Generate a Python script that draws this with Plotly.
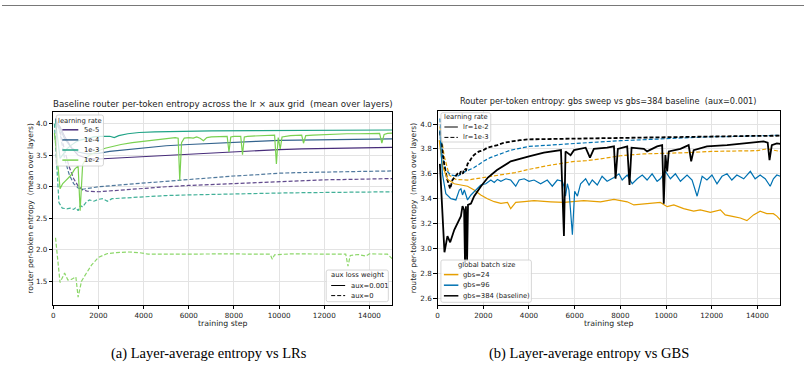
import plotly.graph_objects as go

W, H = 804, 369

# ---------------- data: left panel (lr x aux grid) ----------------
lr5e5_aux001 = [(100,4.05),(300,3.95),(500,3.80),(800,3.62),(1100,3.50),(1500,3.45),(2000,3.44),(3000,3.46),(4000,3.48),(5000,3.50),(6000,3.52),(7000,3.54),(8000,3.555),(9000,3.57),(10000,3.59),(11000,3.60),(12000,3.605),(13000,3.61),(14000,3.62),(15000,3.625)]
lr1e4_aux001 = [(100,4.08),(300,3.92),(500,3.76),(800,3.62),(1100,3.55),(1500,3.52),(2000,3.53),(2500,3.56),(3000,3.58),(4000,3.62),(5000,3.65),(6000,3.67),(7000,3.69),(8000,3.70),(9000,3.72),(10000,3.735),(11000,3.74),(12000,3.745),(13000,3.75),(14000,3.755),(15000,3.76)]
lr1e3_aux001 = [(100,4.05),(200,3.72),(300,3.45),(450,3.52),(600,3.60),(800,3.66),(1000,3.71),(1200,3.74),(1500,3.77),(1800,3.79),(2100,3.80),(2500,3.80),(2700,3.78),(2900,3.81),(3300,3.84),(3800,3.86),(4500,3.87),(5500,3.88),(7000,3.885),(9000,3.89),(11000,3.895),(13000,3.895),(15000,3.90)]
lr1e2_aux001 = [(50,3.85),(150,3.55),(300,2.97),(420,3.05),(530,3.09),(650,3.13),(750,3.17),(850,3.22),(950,3.28),(1100,3.33),(1190,2.62),(1300,3.35),(1450,3.45),(1600,3.50),(1800,3.54),(2000,3.57),(2300,3.61),(2600,3.64),(3000,3.67),(3500,3.70),(4000,3.72),(4500,3.75),(5000,3.77),(5400,3.78),(5530,3.77),(5600,3.10),(5680,3.70),(5800,3.77),(6000,3.78),(6200,3.77),(6350,3.79),(6500,3.77),(6650,3.73),(6800,3.78),(7000,3.79),(7300,3.79),(7600,3.80),(7700,3.80),(7780,3.55),(7860,3.79),(8000,3.80),(8300,3.80),(8380,3.51),(8460,3.79),(8600,3.80),(9000,3.81),(9400,3.81),(9800,3.82),(9880,3.36),(9960,3.78),(10050,3.60),(10130,3.79),(10500,3.81),(11000,3.82),(11080,3.69),(11180,3.81),(11500,3.82),(12000,3.83),(12500,3.835),(13000,3.84),(13500,3.84),(14000,3.845),(14450,3.845),(14550,3.69),(14650,3.83),(14800,3.845),(15000,3.85)]
lr5e5_aux0 = [(100,4.05),(300,3.88),(500,3.58),(700,3.32),(900,3.13),(1100,3.01),(1300,2.95),(1500,2.93),(2000,2.92),(3000,2.95),(4000,2.98),(5000,3.0),(6000,3.02),(7000,3.035),(8000,3.05),(9000,3.07),(10000,3.09),(11000,3.10),(12000,3.11),(13000,3.115),(14000,3.125),(15000,3.13)]
lr1e4_aux0 = [(100,4.08),(300,3.85),(500,3.45),(700,3.20),(900,3.05),(1100,2.98),(1300,2.96),(1500,2.97),(2000,3.00),(3000,3.03),(4000,3.06),(5000,3.09),(6000,3.12),(7000,3.15),(8000,3.17),(9000,3.19),(10000,3.215),(11000,3.225),(12000,3.235),(13000,3.24),(14000,3.245),(15000,3.25)]
lr1e3_aux0 = [(50,4.0),(150,3.3),(250,2.75),(400,2.66),(600,2.65),(750,2.66),(900,2.64),(1000,2.67),(1100,2.62),(1200,2.70),(1300,2.68),(1450,2.75),(1600,2.79),(1800,2.77),(2000,2.80),(2200,2.81),(2400,2.77),(2600,2.81),(3000,2.82),(4000,2.84),(5000,2.86),(6000,2.87),(7000,2.88),(8000,2.89),(9000,2.895),(10000,2.90),(11000,2.905),(12000,2.91),(13000,2.915),(14000,2.92),(15000,2.92)]
lr1e2_aux0 = [(100,2.19),(300,1.48),(500,1.63),(650,1.52),(800,1.53),(950,1.56),(1000,1.57),(1100,1.25),(1250,1.50),(1450,1.62),(1700,1.76),(2000,1.88),(2400,1.94),(2800,1.955),(3300,1.965),(3800,1.955),(4200,1.93),(5000,1.93),(6000,1.935),(7000,1.93),(8000,1.935),(9000,1.93),(9600,1.93),(9700,1.85),(9800,1.92),(10500,1.935),(11500,1.935),(12500,1.935),(12950,1.93),(13050,1.74),(13150,1.91),(13500,1.925),(13850,1.90),(14000,1.935),(14500,1.935),(14800,1.93),(15000,1.86)]

lr_labels = ["5e-5", "1e-4", "1e-3", "1e-2"]
lr_colors = ["#472c7a", "#33638d", "#20a386", "#7ad151"]
left_solid = [lr5e5_aux001, lr1e4_aux001, lr1e3_aux001, lr1e2_aux001]
left_dash = [lr5e5_aux0, lr1e4_aux0, lr1e3_aux0, lr1e2_aux0]
aux_labels = ["aux=0.001", "aux=0"]

# ---------------- data: right panel (gbs sweep) ----------------
gbs24_lr1e2 = [(70,3.87),(220,3.66),(440,3.555),(730,3.52),(1020,3.51),(1310,3.50),(1600,3.47),(1890,3.43),(2180,3.40),(2480,3.376),(2770,3.363),(3060,3.37),(3200,3.32),(3420,3.37),(3790,3.376),(4220,3.384),(4950,3.375),(5530,3.37),(6400,3.384),(7130,3.375),(7720,3.395),(8300,3.375),(8590,3.35),(9170,3.36),(9750,3.37),(10050,3.336),(10340,3.35),(10770,3.32),(11210,3.30),(11500,3.31),(11940,3.29),(12380,3.31),(12590,3.27),(12960,3.256),(13250,3.245),(13540,3.224),(13830,3.27),(14120,3.30),(14410,3.28),(14700,3.28),(14850,3.26),(15000,3.23)]
gbs96_lr1e2 = [(100,3.95),(210,3.60),(360,3.44),(580,3.40),(800,3.39),(950,3.47),(1020,3.48),(1090,3.43),(1170,3.47),(1310,3.39),(1460,3.43),(1670,3.47),(1890,3.51),(2110,3.52),(2330,3.55),(2480,3.53),(2620,3.555),(2770,3.54),(2990,3.56),(3200,3.55),(3420,3.50),(3570,3.55),(3790,3.56),(4000,3.54),(4220,3.55),(4510,3.52),(4800,3.55),(5020,3.50),(5240,3.55),(5460,3.54),(5530,3.50),(5600,3.42),(5680,3.52),(5750,3.47),(5900,3.11),(6000,3.46),(6120,3.42),(6260,3.52),(6480,3.56),(6630,3.51),(6770,3.55),(6990,3.51),(7200,3.58),(7420,3.54),(7720,3.57),(7940,3.60),(8080,3.55),(8300,3.59),(8520,3.52),(8740,3.56),(8960,3.59),(9170,3.55),(9390,3.60),(9610,3.54),(9750,3.56),(9970,3.62),(10190,3.56),(10410,3.60),(10630,3.54),(10920,3.59),(11140,3.55),(11360,3.42),(11580,3.58),(11790,3.55),(12010,3.59),(12230,3.52),(12450,3.58),(12670,3.60),(12880,3.55),(13100,3.59),(13400,3.56),(13690,3.62),(13900,3.56),(14120,3.59),(14340,3.56),(14560,3.50),(14700,3.56),(14850,3.59),(15000,3.58)]
gbs384_lr1e2 = [(100,3.68),(300,2.97),(430,3.10),(550,3.05),(730,3.15),(870,3.20),(1020,3.26),(1090,3.34),(1160,3.31),(1200,2.88),(1240,3.34),(1290,2.90),(1330,3.35),(1460,3.36),(1600,3.42),(1900,3.50),(2200,3.57),(2600,3.63),(3200,3.70),(4000,3.74),(4650,3.77),(5400,3.79),(5530,3.10),(5600,3.78),(5820,3.75),(5970,3.79),(6260,3.80),(6480,3.81),(6670,3.73),(6840,3.80),(7420,3.81),(7720,3.82),(7790,3.56),(7890,3.80),(8300,3.82),(8400,3.51),(8490,3.81),(9030,3.80),(9170,3.78),(9610,3.82),(9830,3.83),(9900,3.36),(9970,3.75),(10050,3.62),(10120,3.78),(10630,3.80),(10990,3.83),(11100,3.70),(11210,3.79),(11790,3.82),(12670,3.83),(13540,3.845),(14270,3.86),(14450,3.85),(14530,3.71),(14630,3.83),(14850,3.845),(15000,3.84)]
gbs24_lr1e3 = [(100,3.98),(290,3.74),(510,3.59),(800,3.555),(1310,3.55),(2000,3.57),(2770,3.59),(3400,3.61),(4000,3.636),(4950,3.67),(6000,3.70),(6500,3.705),(7130,3.72),(8000,3.745),(9030,3.76),(10000,3.764),(10920,3.77),(12000,3.78),(12960,3.78),(14000,3.786),(14400,3.80),(15000,3.78)]
gbs96_lr1e3 = [(100,4.045),(220,3.74),(360,3.63),(580,3.59),(870,3.58),(1240,3.62),(1600,3.65),(2000,3.70),(2300,3.73),(2620,3.75),(3200,3.79),(4000,3.82),(5000,3.83),(6000,3.84),(7000,3.855),(8000,3.866),(9000,3.875),(10000,3.885),(11000,3.89),(12000,3.898),(13000,3.90),(14000,3.905),(15000,3.91)]
gbs384_lr1e3 = [(100,3.94),(300,3.66),(430,3.55),(550,3.48),(650,3.55),(750,3.57),(870,3.60),(950,3.59),(1020,3.62),(1100,3.60),(1170,3.64),(1250,3.63),(1310,3.68),(1400,3.70),(1530,3.74),(1650,3.76),(1820,3.78),(2000,3.79),(2180,3.81),(2400,3.82),(2620,3.83),(2900,3.85),(3200,3.86),(3600,3.87),(4000,3.877),(5000,3.88),(6000,3.885),(7000,3.888),(8000,3.893),(9000,3.895),(10000,3.898),(11000,3.90),(12000,3.90),(13000,3.902),(14000,3.905),(15000,3.906)]

gbs_labels = ["gbs=24", "gbs=96", "gbs=384 (baseline)"]
gbs_colors = ["#E69F00", "#0072B2", "#000000"]
right_solid = [gbs24_lr1e2, gbs96_lr1e2, gbs384_lr1e2]
right_dash = [gbs24_lr1e3, gbs96_lr1e3, gbs384_lr1e3]
lr2_labels = ["lr=1e-2", "lr=1e-3"]

x_ticks = [0, 2000, 4000, 6000, 8000, 10000, 12000, 14000]
left_yticks = [1.5, 2.0, 2.5, 3.0, 3.5, 4.0]
right_yticks = [2.6, 2.8, 3.0, 3.2, 3.4, 3.6, 3.8, 4.0]

FONT = "DejaVu Sans"
DASH = "4px,2px"

fig = go.Figure()

def add(series, color, dash, width, xa, ya, opacity=1.0):
    fig.add_trace(go.Scatter(
        x=[p[0] for p in series], y=[p[1] for p in series], mode="lines",
        line=dict(color=color, width=width, dash=dash), opacity=opacity,
        xaxis=xa, yaxis=ya, showlegend=False, hoverinfo="skip"))

for s, c in zip(left_dash, lr_colors):
    add(s, c, DASH, 1.2, "x", "y", 0.85)
for s, c in zip(left_solid, lr_colors):
    add(s, c, "solid", 1.2, "x", "y")
for s, c, w in zip(right_dash, gbs_colors, [1.2, 1.2, 1.8]):
    add(s, c, DASH, w, "x2", "y2")
for s, c, w in zip(right_solid, gbs_colors, [1.2, 1.2, 1.8]):
    add(s, c, "solid", w, "x2", "y2")

def px(x):
    return x / W

def py(y):
    return 1 - y / H

axis_common = dict(showline=True, mirror=True, linecolor="#000", linewidth=0.8,
                   ticks="outside", ticklen=3.5, tickwidth=0.8, tickcolor="#000",
                   showgrid=True, gridcolor="#e3e3e3", gridwidth=0.8, zeroline=False,
                   tickfont=dict(family=FONT, size=7.2, color="#222"))

fig.update_layout(
    width=W, height=H, margin=dict(l=0, r=0, t=0, b=0),
    paper_bgcolor="white", plot_bgcolor="white", showlegend=False,
    xaxis=dict(domain=[px(51.4), px(391)], range=[0, 15000], tickvals=x_ticks, tickformat="d", anchor="y", **axis_common),
    yaxis=dict(domain=[py(305), py(111.7)], range=[1.124, 4.19], tickvals=left_yticks, tickformat=".1f", anchor="x", **axis_common),
    xaxis2=dict(domain=[px(436.7), px(780.2)], range=[0, 15000], tickvals=x_ticks, tickformat="d", anchor="y2", **axis_common),
    yaxis2=dict(domain=[py(305), py(110.7)], range=[2.546, 4.107], tickvals=right_yticks, tickformat=".1f", anchor="x2", **axis_common),
)

shapes = []
annos = []

def text(x, y, s, size, xanchor="center", angle=0, family=FONT, color="#222"):
    annos.append(dict(x=px(x), y=py(y), xref="paper", yref="paper", text=s, showarrow=False,
                      xanchor=xanchor, yanchor="middle", textangle=angle,
                      font=dict(family=family, size=size, color=color), borderpad=0))

def rbox(x0, y0, x1, y1, r=2.0):
    path = (f"M {px(x0+r)},{py(y0)} L {px(x1-r)},{py(y0)} Q {px(x1)},{py(y0)} {px(x1)},{py(y0+r)} "
            f"L {px(x1)},{py(y1-r)} Q {px(x1)},{py(y1)} {px(x1-r)},{py(y1)} "
            f"L {px(x0+r)},{py(y1)} Q {px(x0)},{py(y1)} {px(x0)},{py(y1-r)} "
            f"L {px(x0)},{py(y0+r)} Q {px(x0)},{py(y0)} {px(x0+r)},{py(y0)} Z")
    shapes.append(dict(type="path", path=path, xref="paper", yref="paper",
                       fillcolor="rgba(255,255,255,0.8)", line=dict(color="#cccccc", width=0.8)))

def sample(x0, x1, y, color, dash="solid", width=1.5):
    shapes.append(dict(type="line", xref="paper", yref="paper", x0=px(x0), x1=px(x1), y0=py(y), y1=py(y),
                       line=dict(color=color, width=width, dash=dash)))

LEG = 6.8
# left: learning-rate legend
rbox(54.3, 115, 101.7, 166)
text(78, 120.7, "learning rate", LEG)
for i, (lab, c) in enumerate(zip(lr_labels, lr_colors)):
    yy = 129.8 + i * 10.1
    sample(60.5, 76.5, yy, c)
    text(81.5, yy, lab, LEG, xanchor="left")
# left: aux legend
rbox(325, 270, 387.3, 301.7)
text(356, 275.3, "aux loss weight", LEG)
for i, (lab, d) in enumerate(zip(aux_labels, ["solid", DASH])):
    yy = 285.5 + i * 10.1
    sample(330, 344, yy, "#000", d, 1.0)
    text(348.5, yy, lab, LEG, xanchor="left")
# right: lr legend
rbox(440, 112.7, 490, 142)
text(465, 117, "learning rate", LEG)
for i, (lab, d) in enumerate(zip(lr2_labels, ["solid", DASH])):
    yy = 127 + i * 10.4
    sample(443.5, 457, yy, "#000", d, 1.0)
    text(461.5, yy, lab, LEG, xanchor="left")
# right: gbs legend
rbox(440, 260, 530.7, 302.3)
text(485.3, 265.3, "global batch size", LEG)
for i, (lab, c) in enumerate(zip(gbs_labels, gbs_colors)):
    yy = 274.6 + i * 10.6
    sample(443, 457.5, yy, c, "solid", 1.5)
    text(461.5, yy, lab, LEG, xanchor="left")

# titles and axis titles
text(221.2, 104.5, "Baseline router per-token entropy across the lr × aux grid  (mean over layers)", 8.7)
text(608.5, 101.2, "Router per-token entropy: gbs sweep vs gbs=384 baseline  (aux=0.001)", 8.2)
text(221.2, 323.3, "training step", 7.8)
text(608.5, 323.3, "training step", 7.8)
text(28.3, 208.4, "router per-token entropy  (mean over layers)", 7.6, angle=-90)
text(413.3, 208, "router per-token entropy  (mean over layers)", 7.6, angle=-90)

# captions
text(207.5, 353, "(a) Layer-average entropy vs LRs", 14.5, family="Liberation Serif", color="#000")
text(588.5, 353, "(b) Layer-average entropy vs GBS", 14.5, family="Liberation Serif", color="#000")

# page rule at top
shapes.append(dict(type="line", xref="paper", yref="paper", x0=0, x1=1, y0=py(5.5), y1=py(5.5),
                   line=dict(color="#555555", width=0.8)))

fig.update_layout(shapes=shapes, annotations=annos)
fig.write_html("out.html")
